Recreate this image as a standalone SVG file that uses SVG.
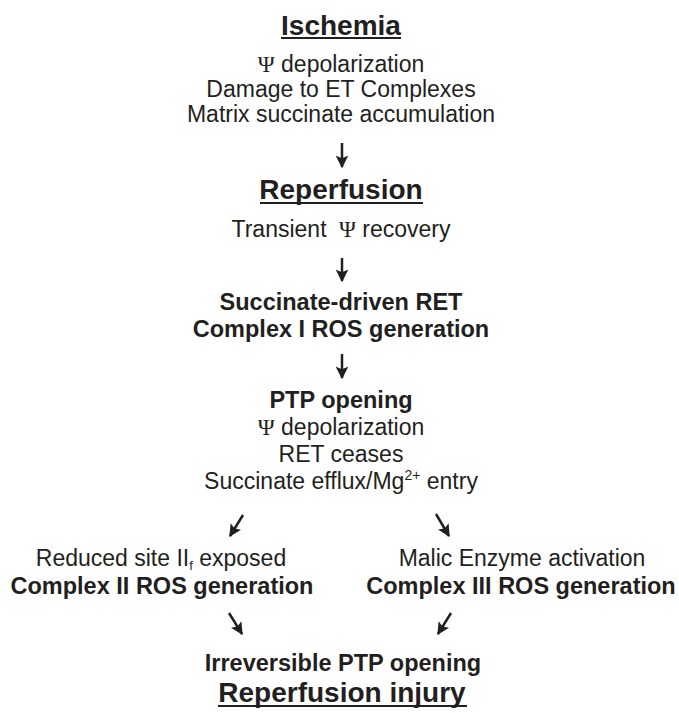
<svg xmlns="http://www.w3.org/2000/svg" width="679" height="713" viewBox="0 0 679 713">
<defs>
<style>
text{font-family:"Liberation Sans",Arial,sans-serif;fill:#231f20;text-anchor:middle}
.t{font-size:28px;font-weight:bold}
.b{font-size:23.5px;font-weight:bold}
.r{font-size:23px}
.psi{font-family:"Liberation Serif","DejaVu Serif",serif}
.ul{stroke:#231f20;stroke-width:2}
.arr{stroke:#231f20;stroke-width:2.5;fill:none;marker-end:url(#ah)}
</style>
<marker id="ah" viewBox="0 0 10 10" refX="9" refY="5" markerWidth="5.5" markerHeight="5" orient="auto" markerUnits="strokeWidth">
<path d="M0,0 L10,5 L0,10 L2,5 z" fill="#231f20"/>
</marker>
</defs>
<rect width="679" height="713" fill="#fff"/>
<g id="ischemia">
<text class="t" x="341" y="35">Ischemia</text>
<line class="ul" x1="281" y1="38" x2="401" y2="38"/>
<text class="r" x="341" y="72"><tspan class="psi">Ψ</tspan> depolarization</text>
<text class="r" x="341" y="97">Damage to ET Complexes</text>
<text class="r" x="341" y="122">Matrix succinate accumulation</text>
</g>
<g id="reperfusion">
<text class="t" x="341" y="199">Reperfusion</text>
<line class="ul" x1="260" y1="203" x2="423" y2="203"/>
<text class="r" x="341" y="237">Transient <tspan class="psi" dx="6">Ψ</tspan> recovery</text>
</g>
<g id="ret">
<text class="b" x="341" y="310">Succinate-driven RET</text>
<text class="b" x="341" y="337">Complex I ROS generation</text>
</g>
<g id="ptp">
<text class="b" x="341" y="408">PTP opening</text>
<text class="r" x="341" y="435"><tspan class="psi">Ψ</tspan> depolarization</text>
<text class="r" x="341" y="462">RET ceases</text>
<text class="r" x="341" y="489">Succinate efflux/Mg<tspan font-size="14" dy="-9">2+</tspan><tspan dy="9"> entry</tspan></text>
</g>
<g id="complex2">
<text class="r" x="161" y="566">Reduced site II<tspan font-size="13" dy="4">f</tspan><tspan dy="-4"> exposed</tspan></text>
<text class="b" x="162" y="594">Complex II ROS generation</text>
</g>
<g id="complex3">
<text class="r" x="522" y="566">Malic Enzyme activation</text>
<text class="b" x="521" y="594">Complex III ROS generation</text>
</g>
<g id="injury">
<text class="b" x="343" y="671">Irreversible PTP opening</text>
<text class="t" x="342" y="702">Reperfusion injury</text>
<line class="ul" x1="218" y1="706" x2="467" y2="706"/>
</g>
<g id="connectors">
<line class="arr" x1="342" y1="143" x2="342" y2="167"/>
<line class="arr" x1="342" y1="258" x2="342" y2="281"/>
<line class="arr" x1="342" y1="354" x2="342" y2="378"/>
<line class="arr" x1="243" y1="515" x2="230" y2="536"/>
<line class="arr" x1="436" y1="514" x2="449" y2="536"/>
<line class="arr" x1="229" y1="613" x2="242" y2="634"/>
<line class="arr" x1="451" y1="613" x2="438" y2="634"/>
</g>
</svg>
